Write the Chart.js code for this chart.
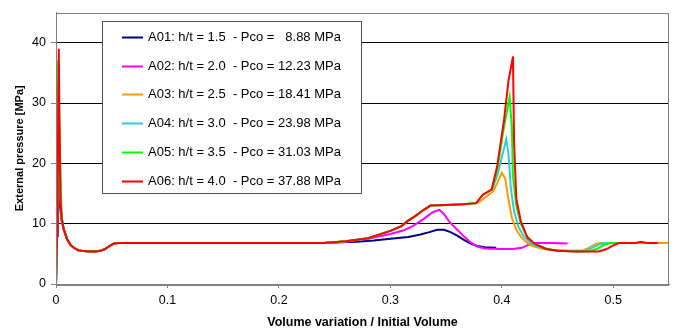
<!DOCTYPE html>
<html>
<head>
<meta charset="utf-8">
<script src="https://cdn.jsdelivr.net/npm/chart.js@4.4.1/dist/chart.umd.min.js"></script>
<style>
  html, body { margin: 0; padding: 0; background: #fff; }
  #wrap { width: 675px; height: 331px; position: relative; }
</style>
</head>
<body>
<div id="wrap"><canvas id="chart"></canvas></div>
<script>
// Volume variation / initial volume vs external pressure [MPa]
const seriesLabels = [
  'A01: h/t = 1.5  - Pco =   8.88 MPa',
  'A02: h/t = 2.0  - Pco = 12.23 MPa',
  'A03: h/t = 2.5  - Pco = 18.41 MPa',
  'A04: h/t = 3.0  - Pco = 23.98 MPa',
  'A05: h/t = 3.5  - Pco = 31.03 MPa',
  'A06: h/t = 4.0  - Pco = 37.88 MPa'
];
const seriesColors = ['#000080', '#ff00ff', '#ff9900', '#33cccc', '#00ff00', '#ff0000'];

const xTicks = [0, 0.1, 0.2, 0.3, 0.4, 0.5];
const yTicks = [0, 10, 20, 30, 40];

// shared post-buckling dip after the first peak
const dip = [[0.01, 7.4], [0.013, 6.5], [0.016, 6.0], [0.02, 5.6], [0.025, 5.45], [0.03, 5.4],
  [0.035, 5.4], [0.04, 5.5], [0.044, 5.8], [0.048, 6.3], [0.052, 6.7], [0.056, 6.8],
  [0.1, 6.8], [0.2, 6.8], [0.24, 6.8]];
// shared rise of the upper bundle (A03..A06)
const bundle = [[0.26, 7.1], [0.28, 7.6], [0.3, 8.8], [0.31, 9.6], [0.316, 10.5], [0.322, 11.2],
  [0.33, 12.3], [0.336, 13.0], [0.35, 13.1], [0.365, 13.2], [0.377, 13.4]];

const a01 = [[0, 0], [0.001, 8], [0.0015, 17], [0.003, 14], [0.005, 10.5], [0.007, 9]].concat(dip, [
  [0.256, 6.9], [0.27, 7.0], [0.285, 7.2], [0.3, 7.5], [0.316, 7.8], [0.327, 8.2], [0.335, 8.6],
  [0.342, 9.0], [0.348, 9.0], [0.354, 8.6], [0.36, 8.0], [0.366, 7.3], [0.372, 6.7], [0.378, 6.3],
  [0.385, 6.1], [0.395, 6.0]]);
const a02 = [[0, 0], [0.001, 9], [0.0015, 22], [0.003, 16], [0.005, 11], [0.007, 9]].concat(dip, [
  [0.26, 7.0], [0.28, 7.5], [0.3, 8.3], [0.312, 8.9], [0.32, 9.6], [0.33, 10.8], [0.338, 11.9],
  [0.344, 12.3], [0.348, 11.6], [0.353, 10.3], [0.36, 9.0], [0.366, 7.9], [0.372, 6.9], [0.378, 6.2],
  [0.385, 5.9], [0.4, 5.8], [0.41, 5.8], [0.418, 6.0], [0.424, 6.5], [0.43, 6.8], [0.445, 6.8],
  [0.459, 6.7]]);
const a03 = [[0, 0], [0.001, 9], [0.002, 24], [0.003, 18], [0.005, 11], [0.007, 9]].concat(dip, bundle, [
  [0.38, 13.6], [0.386, 14.5], [0.392, 15.3], [0.396, 16.8], [0.4, 18.4], [0.403, 17.5], [0.406, 14.0],
  [0.409, 11.0], [0.413, 9.0], [0.418, 7.6], [0.425, 6.5], [0.435, 5.9], [0.445, 5.6], [0.46, 5.5],
  [0.472, 5.5], [0.478, 6.0], [0.484, 6.6], [0.488, 6.8], [0.5, 6.8], [0.52, 6.8], [0.55, 6.8]]);
const a04 = [[0, 0], [0.001, 9], [0.002, 28], [0.003, 20], [0.005, 11], [0.007, 9]].concat(dip, bundle, [
  [0.383, 14.8], [0.391, 15.6], [0.396, 18.0], [0.4, 21.0], [0.404, 24.0], [0.406, 21.5], [0.408, 16.0],
  [0.411, 12.0], [0.415, 9.4], [0.42, 7.8], [0.427, 6.6], [0.437, 5.9], [0.447, 5.6], [0.46, 5.5],
  [0.475, 5.5], [0.481, 6.0], [0.488, 6.6], [0.492, 6.8], [0.505, 6.8]]);
const a05 = [[0, 0], [0.001, 9], [0.002, 37], [0.003, 27], [0.005, 11], [0.007, 9]].concat(dip, bundle, [
  [0.383, 14.8], [0.391, 15.6], [0.396, 19.0], [0.401, 25.0], [0.405, 29.0], [0.407, 31.0], [0.409, 26.0],
  [0.41, 18.0], [0.413, 13.0], [0.417, 10.0], [0.422, 8.0], [0.429, 6.7], [0.439, 5.9], [0.45, 5.5],
  [0.465, 5.4], [0.478, 5.4], [0.485, 5.8], [0.492, 6.5], [0.498, 6.8], [0.505, 6.8]]);
const a06 = [[0, 0], [0.001, 8], [0.0015, 17], [0.0025, 39], [0.003, 29], [0.004, 14], [0.005, 11],
  [0.007, 9]].concat(dip, bundle, [
  [0.383, 14.8], [0.391, 15.7], [0.396, 19.7], [0.402, 27.2], [0.406, 33.7], [0.41, 37.7], [0.411, 23.4],
  [0.413, 14.2], [0.417, 10.4], [0.423, 7.7], [0.43, 6.6], [0.44, 5.8], [0.45, 5.5], [0.465, 5.4],
  [0.487, 5.4], [0.494, 5.8], [0.5, 6.4], [0.505, 6.8], [0.52, 6.8], [0.525, 7.0], [0.53, 6.8],
  [0.54, 6.8]]);

const seriesData = [a01, a02, a03, a04, a05, a06];

(function () {
  'use strict';

  const FONT = 'Liberation Sans, Arial, sans-serif';

  // plot frame + legend box drawn inside the plot area, like the original
  const frameLegend = {
    id: 'frameLegend',
    afterDatasetsDraw(chart) {
      const { ctx, chartArea: a } = chart;
      ctx.save();
      ctx.strokeStyle = '#808080';
      ctx.lineWidth = 1;
      ctx.strokeRect(Math.round(a.left) + 0.5, Math.round(a.top) + 0.5,
        Math.round(a.right - a.left) - 1, Math.round(a.bottom - a.top));

      const bx = 102, by = 21, bw = 259, bh = 172;
      ctx.fillStyle = '#fff';
      ctx.fillRect(bx, by, bw, bh);
      ctx.strokeStyle = '#505050';
      ctx.strokeRect(bx + 0.5, by + 0.5, bw, bh);

      ctx.font = '13px ' + FONT;
      ctx.textBaseline = 'middle';
      chart.data.datasets.forEach((ds, i) => {
        const y = 37 + i * 28.7;
        ctx.strokeStyle = ds.borderColor;
        ctx.lineWidth = 2;
        ctx.beginPath();
        ctx.moveTo(122, Math.round(y) + 0.5);
        ctx.lineTo(143, Math.round(y) + 0.5);
        ctx.stroke();
        ctx.fillStyle = '#000';
        ctx.fillText(ds.label, 148, y + 0.5);
      });
      ctx.restore();
    }
  };

  const datasets = seriesData.map((pts, i) => ({
    label: seriesLabels[i],
    data: pts.map(p => ({ x: p[0], y: p[1] })),
    borderColor: seriesColors[i],
    backgroundColor: seriesColors[i],
    borderWidth: 2,
    pointRadius: 0,
    tension: 0,
    fill: false,
    order: seriesData.length - 1 - i
  }));

  new Chart(document.getElementById('chart').getContext('2d'), {
    type: 'line',
    data: { datasets },
    plugins: [frameLegend],
    options: {
      responsive: true,
      maintainAspectRatio: false,
      animation: false,
      layout: { padding: { left: 0, right: 6, top: 8, bottom: 0 } },
      plugins: { legend: { display: false }, tooltip: { enabled: false } },
      scales: {
        x: {
          type: 'linear', min: 0, max: 0.55,
          afterBuildTicks: (s) => { s.ticks = xTicks.map(v => ({ value: v })); },
          afterFit: (s) => { s.height = 47; },
          grid: { drawOnChartArea: false, drawTicks: true, tickLength: 4, color: '#808080' },
          border: { display: true, color: '#808080' },
          ticks: { color: '#000', font: { family: FONT, size: 12.5 }, padding: 5, maxRotation: 0,
            callback: (v) => String(v) },
          title: { display: true, text: 'Volume variation / Initial Volume', color: '#000',
            font: { family: FONT, size: 12.5, weight: 'bold' }, padding: { top: 0, bottom: 1 } }
        },
        y: {
          type: 'linear', min: 0, max: 45,
          afterBuildTicks: (s) => { s.ticks = yTicks.map(v => ({ value: v })); },
          afterFit: (s) => { s.width = 56; },
          grid: { color: '#000', lineWidth: 1, drawTicks: true, tickLength: 5, tickColor: '#808080' },
          border: { display: true, color: '#808080' },
          ticks: { color: '#000', font: { family: FONT, size: 12.5 }, padding: 5 },
          title: { display: true, text: 'External pressure [MPa]', color: '#000',
            font: { family: FONT, size: 11, weight: 'bold' }, padding: { top: 13, bottom: 0 } }
        }
      }
    }
  });
})();
</script>
</body>
</html>
